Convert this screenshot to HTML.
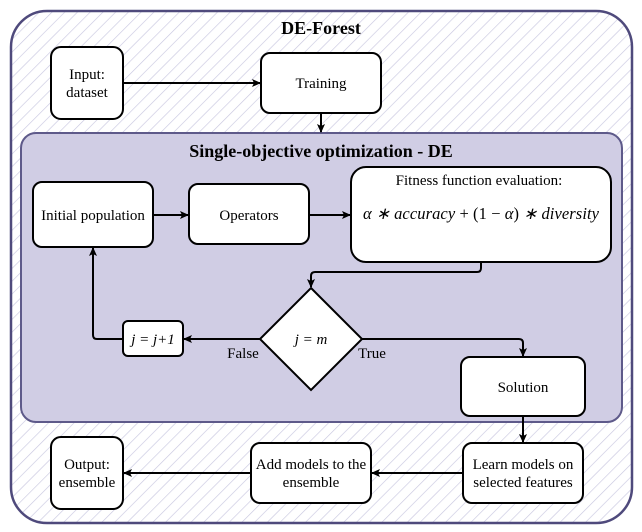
<!DOCTYPE html>
<html><head><style>body{margin:0;background:#fff}svg{display:block}text{font-family:"Liberation Serif",serif;fill:#000}</style></head><body>
<svg width="642" height="532" viewBox="0 0 642 532" xmlns="http://www.w3.org/2000/svg">
<defs>
<pattern id="h" patternUnits="userSpaceOnUse" width="9" height="9" patternTransform="rotate(45)">
<line x1="0" y1="0" x2="0" y2="9" stroke="#c9c7e0" stroke-width="1.3"/>
</pattern>
<marker id="a" markerWidth="10" markerHeight="10" refX="8" refY="5" orient="auto" markerUnits="userSpaceOnUse">
<path d="M0,1 L9,5 L0,9 L2,5 Z" fill="#000"/>
</marker>
</defs>
<rect x="11" y="11" width="621" height="512" rx="36" fill="url(#h)" stroke="#4f4a7c" stroke-width="2.5"/>
<text x="321" y="34" text-anchor="middle" font-size="18" font-weight="bold">DE-Forest</text>
<rect x="21" y="133" width="601" height="289" rx="15" fill="#d0cde4" stroke="#5e5a8a" stroke-width="2"/>
<text x="321" y="157" text-anchor="middle" font-size="18" font-weight="bold">Single-objective optimization - DE</text>
<g fill="#fff" stroke="#000" stroke-width="2">
<rect x="51" y="47" width="72" height="72" rx="10"/>
<rect x="261" y="53" width="120" height="60" rx="9"/>
<rect x="33" y="182" width="120" height="65" rx="9"/>
<rect x="189" y="184" width="120" height="60" rx="9"/>
<rect x="351" y="167" width="260" height="95" rx="15"/>
<polygon points="311,288 362,339 311,390 260,339"/>
<rect x="123" y="321" width="60" height="35" rx="5"/>
<rect x="461" y="357" width="124" height="59" rx="9"/>
<rect x="463" y="443" width="120" height="60" rx="9"/>
<rect x="251" y="443" width="120" height="60" rx="9"/>
<rect x="51" y="437" width="72" height="72" rx="10"/>
</g>
<g fill="none" stroke="#000" stroke-width="2" marker-end="url(#a)">
<path d="M123,83 H260"/>
<path d="M321,113 V132"/>
<path d="M153,215 H188"/>
<path d="M309,215 H350"/>
<path d="M481,262 V268 Q481,272 477,272 H315 Q311,272 311,276 V287"/>
<path d="M260,339 H184"/>
<path d="M123,339 H97 Q93,339 93,335 V248"/>
<path d="M362,339 H519 Q523,339 523,343 V356"/>
<path d="M523,416 V442"/>
<path d="M463,473 H372"/>
<path d="M251,473 H124"/>
</g>
<g font-size="15" text-anchor="middle">
<text x="87" y="79">Input:</text><text x="87" y="97">dataset</text>
<text x="321" y="88">Training</text>
<text x="93" y="220">Initial population</text>
<text x="249" y="220">Operators</text>
<text x="479" y="185">Fitness function evaluation:</text>
<text x="481" y="219" font-style="italic" font-size="16.5" textLength="236" lengthAdjust="spacing">α ∗ accuracy <tspan font-style="normal">+ (1 − </tspan>α<tspan font-style="normal">)</tspan> ∗ diversity</text>
<text x="311" y="344" font-style="italic">j = m</text>
<text x="153" y="344" font-style="italic">j = j+1</text>
<text x="243" y="358">False</text>
<text x="372" y="358">True</text>
<text x="523" y="392">Solution</text>
<text x="523" y="469">Learn models on</text><text x="523" y="487">selected features</text>
<text x="311" y="469">Add models to the</text><text x="311" y="487">ensemble</text>
<text x="87" y="469">Output:</text><text x="87" y="487">ensemble</text>
</g>
</svg>
</body></html>
